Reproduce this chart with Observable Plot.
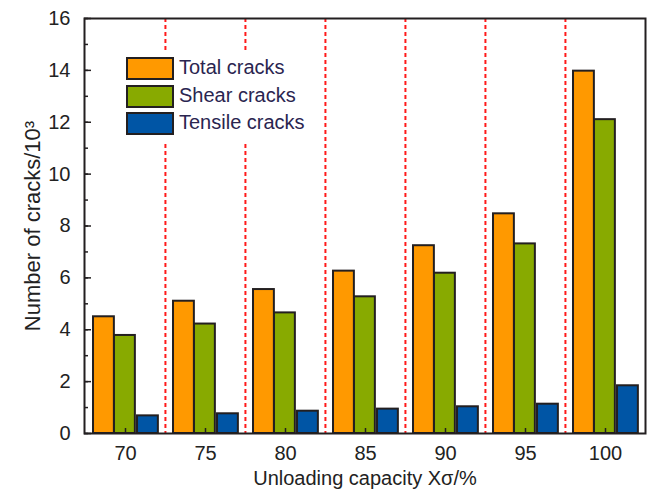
<!DOCTYPE html>
<html><head><meta charset="utf-8">
<script src="https://cdn.jsdelivr.net/npm/d3@7"></script>
<script src="https://cdn.jsdelivr.net/npm/@observablehq/plot@0.6"></script>
<style>
html,body{margin:0;padding:0;background:#fff;}
#wrap{position:relative;width:653px;height:500px;font-family:"Liberation Sans",Arial,sans-serif;}
#legend{position:absolute;left:121px;top:52px;width:182px;background:#fff;padding:5px 0 1px 5px;}
#legend [class*="-swatches"]{margin:0 !important;font-family:"Liberation Sans",Arial,sans-serif !important;font-size:20px !important;color:#2a2550 !important;}
#legend [class$="-swatch"]{padding-bottom:4.6px !important;display:flex;align-items:center;font-size:20px !important;line-height:23px;}
#legend [class$="-swatch"] > svg{border:2px solid #231f20;margin-right:5px !important;flex-shrink:0;}
#legend [class$="-swatch"] > *:not(svg){position:relative;top:-1px;overflow:visible !important;}
</style>
</head><body>
<div id="wrap"><div id="chart"></div><div id="legend"></div></div>
<script>
const caps = ["70","75","80","85","90","95","100"];
const totalCracks = [4.5, 5.1, 5.55, 6.26, 7.24, 8.47, 13.97];
const shearCracks = [3.78, 4.22, 4.65, 5.27, 6.18, 7.31, 12.1];
const tensileCracks = [0.68, 0.76, 0.86, 0.94, 1.03, 1.13, 1.84];
const seriesNames = ["Total cracks", "Shear cracks", "Tensile cracks"];
const seriesColors = ["#ff9900", "#88aa00", "#0055a5"];
const yMajorTicks = [0,2,4,6,8,10,12,14,16];
const yMinorTicks = [0,1,2,3,4,5,6,7,8,9,10,11,12,13,14,15,16];
const yTitle = "Number of cracks/10³";
const xTitle = "Unloading capacity Xσ/%";

const rows = caps.map((c, i) => ({cap: c, total: totalCracks[i], shear: shearCracks[i], tensile: tensileCracks[i]}));

const W = 653, H = 500, mL = 84, mR = 8, mT = 18, mB = 67;
const bw = (W - mL - mR) / caps.length;
// bar slots as fractions of each category band
const slots = [[0.100, 0.362], [0.362, 0.624], [0.649, 0.911]];
const keys = ["total", "shear", "tensile"];
const edge = "#231f20";

const bars = keys.map((k, j) => Plot.barY(rows, {
  x: "cap", y: k, fill: seriesColors[j], stroke: edge, strokeWidth: 2,
  insetLeft: slots[j][0] * bw, insetRight: (1 - slots[j][1]) * bw
}));

const chart = Plot.plot({
  width: W, height: H,
  marginLeft: mL, marginRight: mR, marginTop: mT, marginBottom: mB,
  style: {fontFamily: "Liberation Sans, Arial, sans-serif", fontSize: "20px", color: "#222", background: "#fff"},
  x: {domain: caps, padding: 0},
  y: {domain: [0, 16]},
  marks: [
    Plot.ruleX(caps.slice(1), {dx: -bw / 2, stroke: "#ff1a1a", strokeWidth: 2, strokeDasharray: "4,3"}),
    ...bars,
    Plot.axisY({ticks: yMinorTicks, tickSize: -4, fill: "none", strokeWidth: 1.5, stroke: edge}),
    Plot.axisY({ticks: yMajorTicks, tickSize: -7, fill: "none", strokeWidth: 1.5, stroke: edge}),
    Plot.axisY({ticks: yMajorTicks, tickSize: 0, tickPadding: 14, fontSize: 20, fill: "#222", label: null}),
    Plot.text([yTitle], {frameAnchor: "left", rotate: -90, dx: -60, lineAnchor: "top", textAnchor: "middle", fontSize: 22, fill: "#222"}),
    Plot.axisX({tickSize: -5, fill: "none", strokeWidth: 1.5, stroke: edge}),
    Plot.axisX({tickSize: 0, tickPadding: 12, fontSize: 20, fill: "#222",
      label: xTitle, labelAnchor: "center", labelOffset: 51, labelArrow: "none"}),
    Plot.frame({stroke: edge, strokeWidth: 2})
  ]
});
document.getElementById("chart").append(chart);

const leg = Plot.legend({
  color: {domain: seriesNames, range: seriesColors},
  legend: "swatches", columns: 1, swatchWidth: 44, swatchHeight: 19
});
document.getElementById("legend").append(leg);
</script>
</body></html>
